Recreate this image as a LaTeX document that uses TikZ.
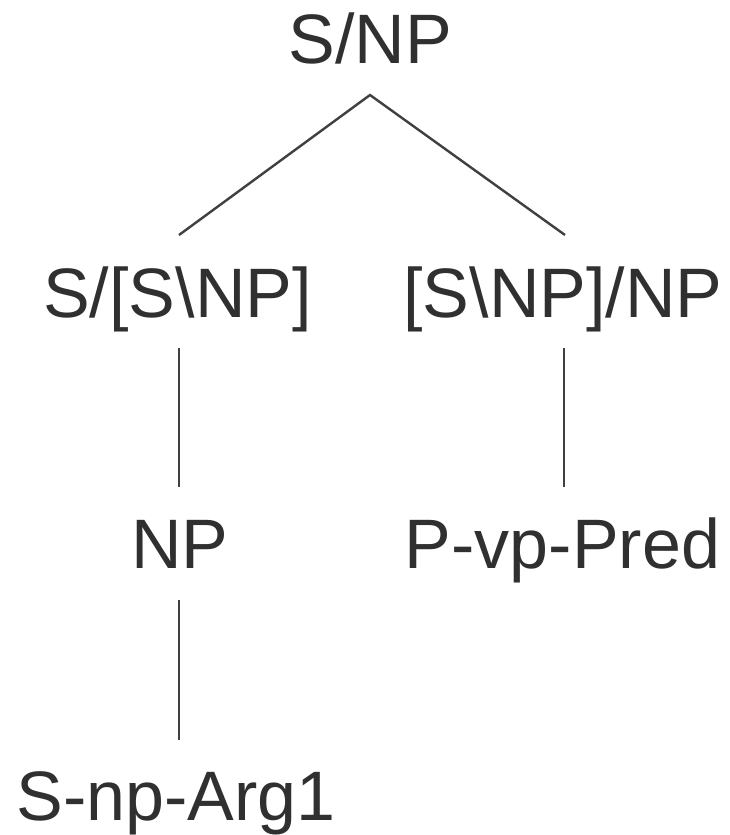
\documentclass[tikz,border=0pt]{standalone}
\usepackage{fontspec}
\setmainfont{Liberation Sans}
\definecolor{txt}{HTML}{303030}
\definecolor{ln}{HTML}{404040}
\tikzset{
  lab/.style={anchor=base, inner sep=0pt, text=txt, font=\fontsize{70}{80}\selectfont},
  edge/.style={draw=ln, line width=2.4pt}
}
\begin{document}
\begin{tikzpicture}[x=1pt,y=-1pt]
\useasboundingbox[fill=white] (0,0) rectangle (729,835);
\node[lab] (top) at (370,63) {S/NP};
\node[lab] (l) at (177.5,317) {S/[S\textbackslash NP]};
\node[lab] (r) at (563,317) {[S\textbackslash NP]/NP};
\node[lab] (np) at (180,568) {NP};
\node[lab] (pvp) at (562.5,568) {P-vp-Pred};
\node[lab] (arg) at (176,820) {S-np-Arg1};
\draw[edge] ([xshift=1.5pt,yshift=82pt]l.base) -- ([yshift=-32pt]top.base) -- ([xshift=2pt,yshift=82pt]r.base);
\draw[edge] ([xshift=1.5pt,yshift=-31pt]l.base) -- ([xshift=-1pt,yshift=81pt]np.base);
\draw[edge] ([xshift=1pt,yshift=-31pt]r.base) -- ([xshift=1.5pt,yshift=81pt]pvp.base);
\draw[edge] ([xshift=-1pt,yshift=-32pt]np.base) -- ([xshift=3pt,yshift=80pt]arg.base);
\end{tikzpicture}
\end{document}
